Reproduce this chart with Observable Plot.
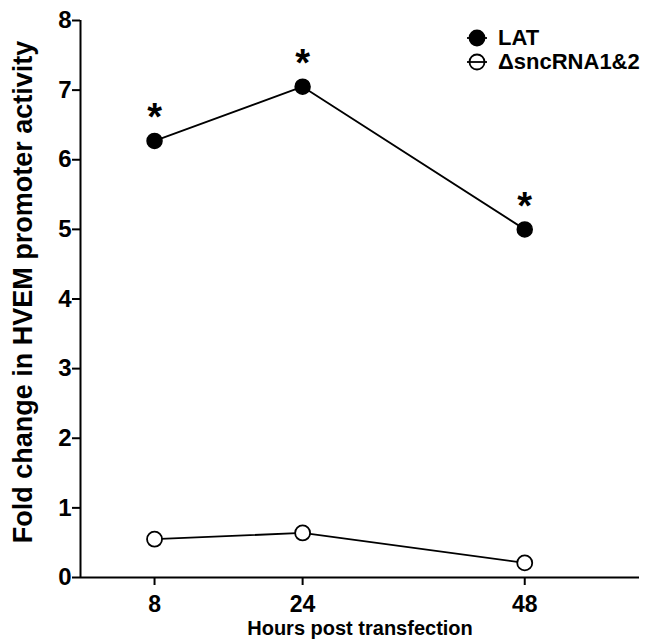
<!DOCTYPE html>
<html>
<head>
<meta charset="utf-8">
<script src="https://cdn.jsdelivr.net/npm/d3@7"></script>
<script src="https://cdn.jsdelivr.net/npm/@observablehq/plot@0.6"></script>
<style>
  html, body { margin: 0; padding: 0; background: #fff; }
  #wrap { position: relative; width: 652px; height: 643px; font-family: "Liberation Sans", Arial, sans-serif; }
  #legend { position: absolute; left: 466px; top: 26px; font-weight: bold; font-size: 22px; color: #000; }
  #legend .row { display: flex; align-items: center; height: 24px; }
  #legend svg { margin-right: 10px; }
</style>
</head>
<body>
<div id="wrap"></div>
<script>
const hours = [8, 24, 48];
const latValues = [6.27, 7.05, 5.0];
const sncValues = [0.55, 0.64, 0.21];
const seriesNames = ["LAT", "ΔsncRNA1&2"];
const yTicks = [0, 1, 2, 3, 4, 5, 6, 7, 8];
const significance = ["*", "*", "*"];

const lat = hours.map((h, i) => ({hour: h, value: latValues[i], sig: significance[i]}));
const snc = hours.map((h, i) => ({hour: h, value: sncValues[i]}));

const font = "Liberation Sans, Arial, sans-serif";

const chart = Plot.plot({
  width: 652,
  height: 643,
  marginLeft: 80,
  marginTop: 20,
  marginRight: 13,
  marginBottom: 66,
  style: {fontFamily: font, fontWeight: "bold", color: "#000", background: "#fff", overflow: "visible"},
  x: {domain: [0, 60.4], label: null},
  y: {domain: [0, 8], label: null},
  marks: [
    Plot.ruleY([0], {stroke: "#000", strokeWidth: 2}),
    Plot.ruleX([0], {stroke: "#000", strokeWidth: 2}),
    Plot.axisY({ticks: yTicks, tickSize: 8, tickPadding: 1, fontSize: 24, fontWeight: "bold", stroke: "#000", strokeWidth: 2, strokeOpacity: 1, tickFormat: d => String(d), label: null}),
    Plot.axisX({ticks: hours, tickSize: 8, tickPadding: 10, fontSize: 23, fontWeight: "bold", stroke: "#000", strokeWidth: 2, strokeOpacity: 1, tickFormat: d => String(d), label: null}),
    Plot.text(["Fold change in HVEM promoter activity"], {frameAnchor: "left", textAnchor: "middle", lineAnchor: "middle", rotate: -90, dx: -57, dy: -7, fontSize: 27, fontWeight: "bold", fill: "#000"}),
    Plot.text(["Hours post transfection"], {frameAnchor: "bottom", dy: 57, fontSize: 20, fontWeight: "bold", fill: "#000"}),
    Plot.line(lat, {x: "hour", y: "value", stroke: "#000", strokeWidth: 1.8}),
    Plot.line(snc, {x: "hour", y: "value", stroke: "#000", strokeWidth: 1.8}),
    Plot.dot(lat, {x: "hour", y: "value", r: 7.5, fill: "#000", stroke: "#000"}),
    Plot.dot(snc, {x: "hour", y: "value", r: 7.5, fill: "#fff", stroke: "#000", strokeWidth: 1.8}),
    Plot.text(lat, {x: "hour", y: "value", text: "sig", dy: -23, fontSize: 38, fontWeight: "bold", fill: "#000"})
  ]
});

const wrap = document.getElementById("wrap");
wrap.appendChild(chart);

const legend = document.createElement("div");
legend.id = "legend";
const markerSvg = (filled) => `<svg width="22" height="20" viewBox="0 0 22 20"><line x1="1" x2="21" y1="10" y2="10" stroke="#000" stroke-width="1.8"/><circle cx="11" cy="10" r="7.5" fill="${filled ? "#000" : "none"}" stroke="#000" stroke-width="1.8"/></svg>`;
legend.innerHTML = seriesNames.map((n, i) => `<div class="row">${markerSvg(i === 0)}<span>${n}</span></div>`).join("");
wrap.appendChild(legend);
</script>
</body>
</html>
